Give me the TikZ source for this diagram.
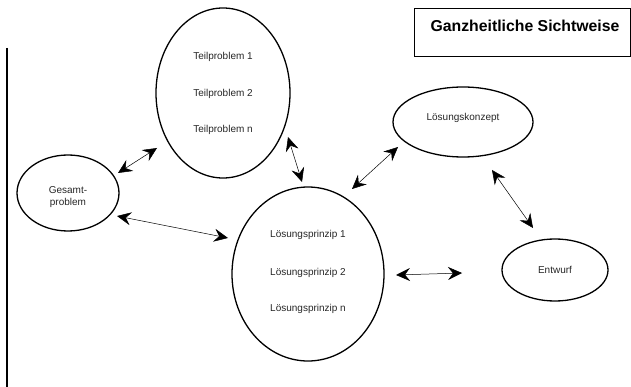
\documentclass[tikz,border=0pt]{standalone}
\usepackage{fontspec}
\setmainfont{Liberation Sans}
\usetikzlibrary{shapes.geometric,arrows.meta}
\begin{document}
\begin{tikzpicture}[x=1pt,y=-1pt,
  ell/.style={draw,ellipse,line width=1.3pt,inner sep=0pt},
  txt/.style={font=\fontsize{10}{12}\selectfont,text=black!85,inner sep=0pt},
  conn/.style={line width=0.5pt,{Stealth[length=14pt,width=13pt,inset=5pt]}-{Stealth[length=14pt,width=13pt,inset=5pt]}}]
\useasboundingbox (0,0) rectangle (631,387);
% left rule
\coordinate (lt) at (7,48);
\coordinate (lb) at (7,387);
\draw[line width=1.5pt] (lt) -- (lb);
% title box
\node[draw,line width=1.3pt,minimum width=216pt,minimum height=48pt,inner sep=0pt,anchor=north west] (title) at (414,8) {};
\node[font=\fontsize{15.8}{18}\bfseries\selectfont,inner sep=0pt] (titletext) at (525,26) {Ganzheitliche Sichtweise};
% ellipses
\node[ell,minimum width=134pt,minimum height=170pt] (tp) at (223,93) {};
\node[txt] (tp1) at (223,57) {Teilproblem 1};
\node[txt] (tp2) at (223,94) {Teilproblem 2};
\node[txt] (tpn) at (223,130) {Teilproblem n};
\node[ell,minimum width=102pt,minimum height=76pt] (gp) at (68,193) {};
\node[txt,align=center] (gpt) at (68,197) {Gesamt-\\problem};
\node[ell,minimum width=152pt,minimum height=174pt] (lp) at (308,274) {};
\node[txt] (lp1) at (308,235) {Lösungsprinzip 1};
\node[txt] (lp2) at (308,273) {Lösungsprinzip 2};
\node[txt] (lpn) at (308,309) {Lösungsprinzip n};
\node[ell,minimum width=140pt,minimum height=70pt] (lk) at (463,122) {};
\node[txt] (lkt) at (463,118) {Lösungskonzept};
\node[ell,minimum width=106pt,minimum height=62pt] (ew) at (555,270) {};
\node[txt] (ewt) at (555,270) {Entwurf};
% arrow ends
\coordinate (a1s) at (118,173); \coordinate (a1e) at (157,148);
\coordinate (a2s) at (117,216); \coordinate (a2e) at (228,238);
\coordinate (a3s) at (288,137); \coordinate (a3e) at (302,182);
\coordinate (a4s) at (352,189); \coordinate (a4e) at (398,147);
\coordinate (a5s) at (492,170); \coordinate (a5e) at (533,228);
\coordinate (a6s) at (396,275); \coordinate (a6e) at (462,273);
\draw[conn] (a1s) -- (a1e);
\draw[conn] (a2s) -- (a2e);
\draw[conn] (a3s) -- (a3e);
\draw[conn] (a4s) -- (a4e);
\draw[conn] (a5s) -- (a5e);
\draw[conn] (a6s) -- (a6e);
\end{tikzpicture}
\end{document}
